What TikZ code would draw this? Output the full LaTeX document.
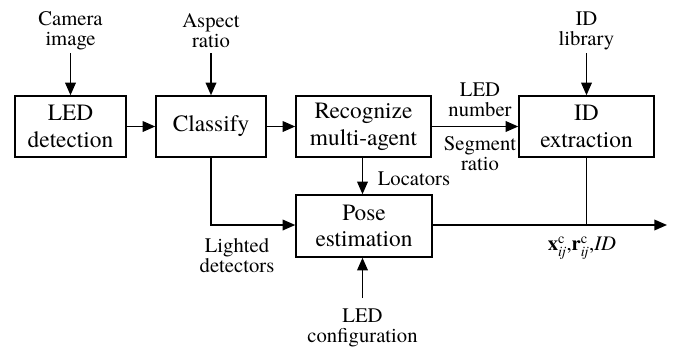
\documentclass[tikz,border=0pt]{standalone}
\usepackage{amsmath}
\usepackage{fontspec}
\setmainfont{texgyretermes}[Extension=.otf, UprightFont=*-regular, BoldFont=*-bold, ItalicFont=*-italic, BoldItalicFont=*-bolditalic]
\usetikzlibrary{arrows.meta}

\tikzset{
  procbox/.style={draw, line width=1.1pt, minimum height=45.75pt, align=center, inner sep=0pt, font=\fontsize{17.5}{20}\selectfont},
  lbl/.style={align=center, inner sep=0pt, font=\fontsize{15.5}{15}\selectfont},
  flow/.style={line width=1.1pt, -{Triangle[length=9.5pt,width=8pt]}},
  wire/.style={line width=1.1pt}
}
\newcommand{\posevec}[1]{\textbf{#1}$^{\text{c}}_{\text{\itshape ij}}$}

\begin{document}
\begin{tikzpicture}[x=0.75pt,y=0.75pt,yscale=-1,xscale=1]
\useasboundingbox (0,0) rectangle (683,350);

%Process boxes
\node [procbox, minimum width=83.25pt] (ledDet) at (70.5,126.5) {LED\\detection};
\node [procbox, minimum width=82.5pt] (classify) at (211,126.5) {Classify};
\node [procbox, minimum width=101.25pt] (recog) at (363.5,126.5) {Recognize\\multi-agent};
\node [procbox, minimum width=101.25pt] (idExt) at (586.5,126.5) {ID\\extraction};
\node [procbox, minimum width=102pt, minimum height=46.5pt] (pose) at (364,226) {Pose\\estimation};

% Text Node
\node [lbl] (camImg) at (70.5,31) {Camera\\image};
% Text Node
\node [lbl] (aspect) at (211,31) {Aspect\\ratio};
% Text Node
\node [lbl] (idLib) at (586.5,31) {ID\\library};
% Text Node
\node [lbl] (ledCfg) at (362.5,328) {LED\\configuration};
% Text Node
\node [lbl] at (480,100) {LED\\number};
% Text Node
\node [lbl] at (480,154) {Segment\\ratio};
% Text Node
\node [lbl] at (414,179) {Locators};
% Text Node
\node [lbl] at (237,256) {Lighted\\detectors};
% Text Node
\node [lbl] at (582,248) {\posevec{x},\posevec{r},\textit{ID}};

\coordinate (outEnd) at (667,225);
\coordinate (cfgStart) at (362.5,298);

%Connectors
\draw [flow] (camImg.south |- 0,53) -- (ledDet.north);
\draw [flow] (aspect.south |- 0,53) -- (classify.north);
\draw [flow] (idLib.south |- 0,53) -- (idExt.north);
\draw [flow] (ledDet) -- (classify);
\draw [flow] (classify) -- (recog);
\draw [flow] (recog) -- (idExt);
\draw [flow] (recog.south -| 362.5,0) -- (pose.north -| 362.5,0);
\draw [flow] (classify.south) |- (pose.west |- 0,225);
\draw [flow] (cfgStart) -- (pose.south -| cfgStart);
\draw [flow] (pose.east |- outEnd) -- (outEnd);
\draw [wire] (idExt.south) -- (idExt.south |- outEnd);

\end{tikzpicture}
\end{document}
